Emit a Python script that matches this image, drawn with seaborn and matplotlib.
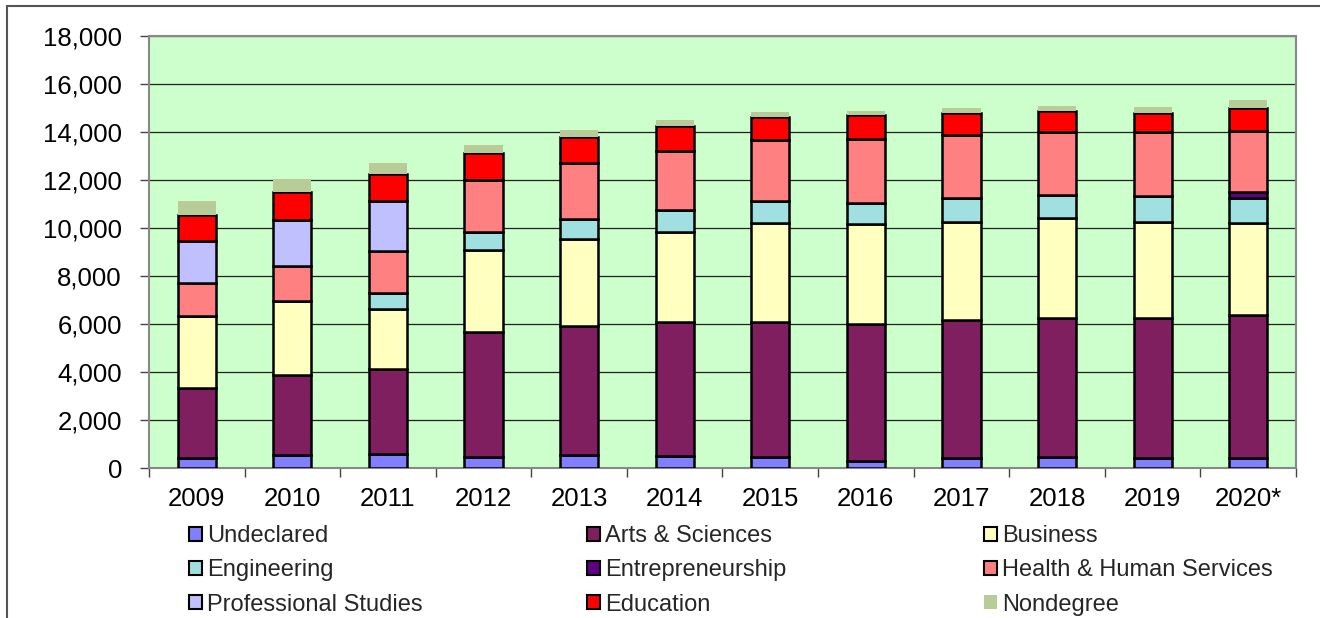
import numpy as np
import matplotlib
matplotlib.use("Agg")
import matplotlib.pyplot as plt
import seaborn as sns
from matplotlib.patches import Patch, Rectangle
from matplotlib.ticker import FuncFormatter, FixedLocator

# -------------------------
# Data
# -------------------------
years = ['2009', '2010', '2011', '2012', '2013', '2014',
         '2015', '2016', '2017', '2018', '2019', '2020*']

undeclared = [420, 540, 600, 470, 540, 510, 440, 310, 400, 440, 400, 400]
arts_sciences = [2930, 3320, 3540, 5210, 5380, 5570, 5660, 5680, 5770, 5820, 5840, 5970]
business = [2990, 3100, 2490, 3390, 3610, 3760, 4100, 4170, 4100, 4140, 4030, 3850]
engineering = [0, 0, 680, 780, 850, 890, 930, 900, 970, 970, 1070, 1040]
entrepreneurship = [0, 0, 0, 0, 0, 0, 0, 0, 0, 0, 0, 240]
health_human = [1360, 1470, 1740, 2150, 2320, 2470, 2540, 2640, 2640, 2640, 2640, 2560]
professional = [1760, 1900, 2080, 0, 0, 0, 0, 0, 0, 0, 0, 0]
education = [1100, 1170, 1120, 1140, 1110, 1060, 970, 990, 900, 860, 810, 960]
nondegree = [580, 550, 460, 320, 280, 230, 210, 190, 210, 210, 250, 320]

series_names = ['Undeclared', 'Arts & Sciences', 'Business', 'Engineering',
                'Entrepreneurship', 'Health & Human Services',
                'Professional Studies', 'Education', 'Nondegree']
series_values = [undeclared, arts_sciences, business, engineering,
                 entrepreneurship, health_human, professional, education,
                 nondegree]
series_colors = ['#8080FF', '#7F1F5F', '#FFFFC0', '#A0E0E0', '#600080',
                 '#FF8080', '#C0C0FF', '#FF0000', '#B8CC98']

# -------------------------
# Style
# -------------------------
sns.set_theme(style='white')
plt.rcParams['font.family'] = ['Liberation Sans', 'DejaVu Sans']

fig = plt.figure(figsize=(13.2, 6.18), dpi=100)
ax = fig.add_axes([149 / 1320, 150 / 618, 1147 / 1320, 432 / 618])
ax.set_facecolor('#CCFFCC')

# -------------------------
# Stacked bars
# -------------------------
bottom = np.zeros(len(years))
for name, vals, col in zip(series_names, series_values, series_colors):
    edge = 'none' if name == 'Nondegree' else 'black'
    sns.barplot(x=years, y=vals, bottom=bottom, color=col, saturation=1,
                width=0.4, edgecolor=edge, linewidth=1.8, errorbar=None,
                ax=ax, zorder=3)
    bottom = bottom + np.array(vals)

# -------------------------
# Axes
# -------------------------
ax.set_ylim(0, 18000)
ax.set_xlim(-0.5, len(years) - 0.5)
ax.set_yticks(np.arange(0, 18001, 2000))
ax.yaxis.set_major_formatter(FuncFormatter(lambda v, p: f'{int(v):,}'))
ax.yaxis.grid(True, color='#222222', linewidth=0.9, zorder=0)
ax.set_axisbelow(True)

ax.xaxis.set_minor_locator(FixedLocator(np.arange(-0.5, len(years), 1.0)))
ax.tick_params(axis='x', which='major', length=0, pad=14, labelsize=18.5, colors='black')
ax.tick_params(axis='x', which='minor', length=6.5, width=1, color='#444444',
               direction='out', bottom=True)
ax.tick_params(axis='y', which='major', length=6.5, width=1, color='#444444',
               direction='out', left=True, pad=13, labelsize=18.5, labelcolor='black')

for sp in ax.spines.values():
    sp.set_color('#888888')
    sp.set_linewidth(1.5)

# -------------------------
# Legend (three columns, filled row-wise)
# -------------------------
col_x = [189 / 1320, 587 / 1320, 984 / 1320]
for c in range(3):
    handles = []
    for r in range(3):
        i = r * 3 + c
        edge = 'none' if series_names[i] == 'Nondegree' else 'black'
        handles.append(Patch(facecolor=series_colors[i], edgecolor=edge,
                             linewidth=1.5, label=series_names[i]))
    fig.legend(handles=handles, loc='upper left',
               bbox_to_anchor=(col_x[c], 1 - 525 / 618),
               frameon=False, fontsize=17, handlelength=0.55,
               handleheight=0.55, handletextpad=0.2, labelspacing=0.52,
               borderaxespad=0, borderpad=0)

# outer chart frame (top and left edges visible)
fig.patches.append(Rectangle((7 / 1320, -0.1), 1.2, 1.1 - 6 / 618,
                             transform=fig.transFigure, fill=False,
                             edgecolor='#555555', linewidth=1.5))

fig.savefig('out.png', dpi=100)
